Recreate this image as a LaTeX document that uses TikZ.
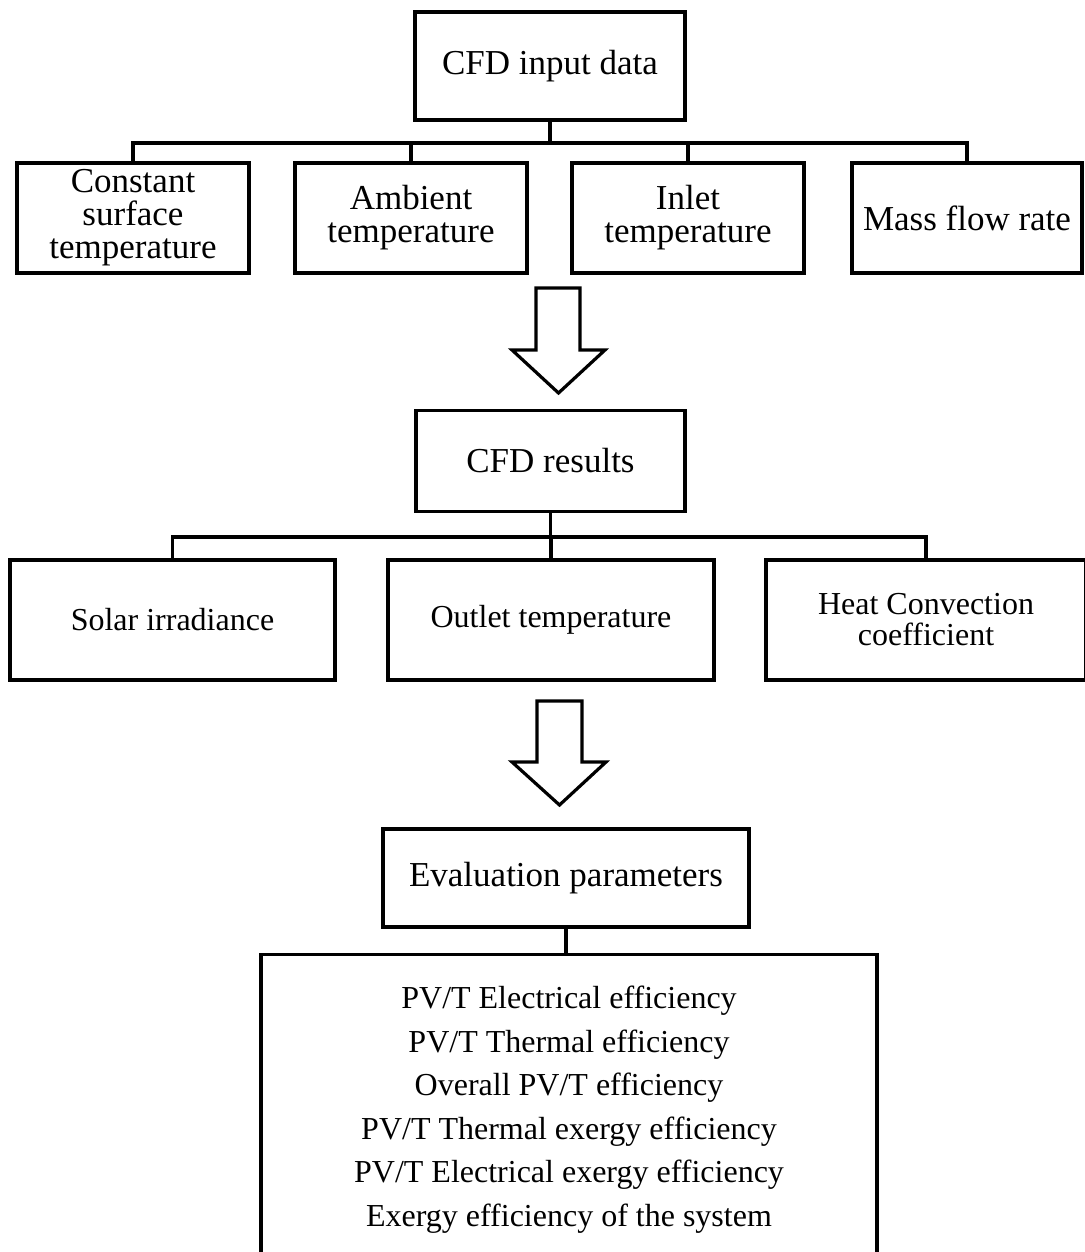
\documentclass[tikz,border=0pt]{standalone}
\usepackage{fontspec}
\setmainfont{Liberation Serif}
\begin{document}
\begin{tikzpicture}[x=1pt,y=-1pt,
  lw/.style={line width=3.4pt},
  box/.style={draw, lw, align=center, inner sep=0pt, font=\fontsize{35}{33}\selectfont},
  boxm/.style={draw, lw, align=center, inner sep=0pt, font=\fontsize{32}{31}\selectfont},
  conn/.style={line width=3.2pt},
  blockarrow/.style={draw, line width=3.2pt, line join=miter, fill=white}]
\useasboundingbox (0,0) rectangle (1084,1252);

% level 1
\node[box, minimum width=270pt, minimum height=108pt] (cfd) at (550,66) {CFD input data};
\node[box, minimum width=232pt, minimum height=110pt] (c1) at (133,218) {Constant\\surface\\temperature};
\node[box, minimum width=232pt, minimum height=110pt] (c2) at (411,218) {Ambient\\temperature};
\node[box, minimum width=232pt, minimum height=110pt] (c3) at (688,218) {Inlet\\temperature};
\node[box, minimum width=230pt, minimum height=110pt] (c4) at (967,218) {Mass flow rate};
\coordinate (bus1) at (550,143);
\draw[conn] (cfd.south) -- (bus1);
\draw[conn] (c1.north) |- (c4.north |- bus1) -- (c4.north);
\draw[conn] (c2.north) -- (c2.north |- bus1);
\draw[conn] (c3.north) -- (c3.north |- bus1);

% arrow 1
\draw[blockarrow] (536,288) -- (580,288) -- (580,350) -- (605,350) -- (558.5,393) -- (512,350) -- (536,350) -- cycle;

% level 2
\node[box, minimum width=269pt, minimum height=101pt] (res) at (550.5,461) {CFD results};
\node[boxm, minimum width=325pt, minimum height=120pt] (r1) at (172.5,620) {Solar irradiance};
\node[boxm, minimum width=326pt, minimum height=120pt] (r2) at (551,620) {Outlet temperature};
\node[boxm, minimum width=320pt, minimum height=120pt] (r3) at (926,620) {Heat Convection\\coefficient};
\coordinate (bus2) at (550.5,537);
\draw[conn] (res.south) -- (bus2);
\draw[conn] (r1.north) |- (r3.north |- bus2) -- (r3.north);
\draw[conn] (r2.north) -- (r2.north |- bus2);

% arrow 2
\draw[blockarrow] (537,701) -- (582,701) -- (582,762) -- (606,762) -- (559.5,805) -- (512,762) -- (537,762) -- cycle;

% level 3
\node[box, minimum width=366pt, minimum height=98pt] (ev) at (566,878) {Evaluation parameters};
\node[draw, lw, minimum width=616pt, minimum height=310pt, inner sep=0pt, anchor=north,
      align=center, font=\fontsize{32}{43.5}\selectfont] (par) at (569,953)
  {PV/T Electrical efficiency\\PV/T Thermal efficiency\\Overall PV/T efficiency\\PV/T Thermal exergy efficiency\\PV/T Electrical exergy efficiency\\Exergy efficiency of the system};
\draw[conn] (ev.south) -- (ev.south |- par.north);
\end{tikzpicture}
\end{document}
